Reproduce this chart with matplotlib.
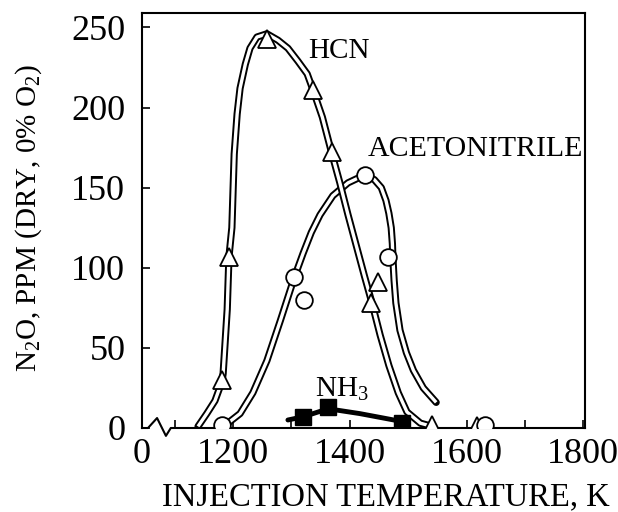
import matplotlib
matplotlib.use("Agg")
import matplotlib.pyplot as plt
from matplotlib.lines import Line2D

plt.rcParams['font.family'] = ['Liberation Serif', 'DejaVu Serif']
plt.rcParams['mathtext.fontset'] = 'custom'
plt.rcParams['mathtext.rm'] = 'Liberation Serif'
plt.rcParams['mathtext.it'] = 'Liberation Serif:italic'

# ---- data ----
hcn_T = [1181, 1193, 1258, 1337, 1370, 1449, 1436, 1541, 1618]
hcn_v = [30, 107, 243, 211, 172, 91, 78, 2, 1]

acn_T = [1181, 1305, 1322, 1426, 1466, 1632]
acn_v = [2, 94, 80, 158, 107, 2]

nh3_T = [1320, 1363, 1490]
nh3_v = [7, 13, 3]

# hand-drawn fit curves
hcn_curve_T = [1140, 1155, 1169, 1181, 1183, 1190, 1193, 1198, 1200, 1202,
               1207, 1212, 1221, 1229, 1241, 1258, 1277, 1294, 1311, 1327,
               1337, 1353, 1368, 1383, 1397, 1411, 1425, 1438, 1452, 1467,
               1483, 1498, 1521, 1541]
hcn_curve_v = [1, 9, 17, 29, 34, 74, 107, 125, 148, 171,
               196, 212, 227, 237, 244, 246, 242, 237, 229, 221,
               211, 194, 173, 153, 133, 114, 95, 78, 58, 39,
               22, 10, 3, 1]

acn_curve_T = [1191, 1212, 1234, 1258, 1281, 1305, 1320, 1334, 1349, 1371,
               1397, 1426, 1442, 1454, 1462, 1467, 1471, 1473, 1474, 1476,
               1479, 1486, 1497, 1509, 1526, 1548]
acn_curve_v = [3, 9, 22, 42, 67, 94, 109, 122, 133, 145,
               153, 158, 155, 150, 142, 134, 125, 115, 105, 92,
               78, 61, 47, 36, 25, 16]

nh3_curve_T = [1294, 1320, 1363, 1417, 1490]
nh3_curve_v = [5, 7, 12, 9, 4]

x_ticks = [1100, 1200, 1300, 1400, 1500, 1600, 1700, 1800]
x_tick_labels = ['', '1200', '', '1400', '', '1600', '', '1800']
y_ticks = [0, 50, 100, 150, 200, 250]
x_left, x_right = 1044, 1803
y_bottom, y_top = 0, 259

fig = plt.figure(figsize=(6.18, 5.12), dpi=100)
ax = fig.add_axes([142/618, (512-428)/512, (585-142)/618, (428-13)/512])


def tube(T, v, z):
    ax.plot(T, v, color='black', lw=5.2, solid_capstyle='round',
            solid_joinstyle='round', zorder=z)
    ax.plot(T, v, color='white', lw=2.4, solid_capstyle='butt',
            solid_joinstyle='round', zorder=z + 0.1)


tube(acn_curve_T, acn_curve_v, 2)
tube(hcn_curve_T, hcn_curve_v, 3)
ax.plot(nh3_curve_T, nh3_curve_v, color='black', lw=3.5,
        solid_capstyle='round', zorder=4)

ax.plot(hcn_T, hcn_v, linestyle='none', marker='^', ms=13.5, mfc='white',
        mec='black', mew=1.3, zorder=6)
ax.plot(acn_T, acn_v, linestyle='none', marker='o', ms=12, mfc='white',
        mec='black', mew=1.3, zorder=6)
ax.plot(nh3_T, nh3_v, linestyle='none', marker='s', ms=11, mfc='black',
        mec='black', mew=1.0, zorder=7)

ax.set_xlim(x_left, x_right)
ax.set_ylim(y_bottom, y_top)

ax.set_xticks([x_left] + x_ticks)
ax.set_xticklabels(['0'] + x_tick_labels)
ax.set_yticks(y_ticks)
ax.set_yticklabels([str(t) for t in y_ticks])
ax.tick_params(axis='both', direction='in', length=6, width=1.2,
               labelsize=26, top=False, right=False)
ax.tick_params(axis='y', pad=12)
ax.tick_params(axis='x', pad=7)
ax.xaxis.get_major_ticks()[0].tick1line.set_visible(False)

for s in ['left', 'top', 'right']:
    ax.spines[s].set_linewidth(1.5)
ax.spines['bottom'].set_visible(False)

# axis break zigzag on the bottom axis
bx = [0, 0.0135, 0.034, 0.054, 0.065, 1]
by = [0, 0, 0.024, -0.019, 0, 0]
ax.add_line(Line2D(bx, by, transform=ax.transAxes, color='black', lw=1.5,
                   clip_on=False, zorder=5))

ax.text(-0.255, 0.506, 'N$_2$O, PPM (DRY, 0% O$_2$)', transform=ax.transAxes,
        rotation=90, ha='center', va='center', fontsize=21)
ax.text(0.551, -0.166, 'INJECTION TEMPERATURE, K', transform=ax.transAxes,
        ha='center', va='center', fontsize=23.5)

ax.text(1382, 235.5, 'HCN', ha='center', va='center', fontsize=21, zorder=8)
ax.text(1430, 174, 'ACETONITRILE', ha='left', va='center', fontsize=21.5, zorder=8)
ax.text(1341, 24, 'NH$_3$', ha='left', va='center', fontsize=21, zorder=8)

fig.savefig('out.png', dpi=100)
